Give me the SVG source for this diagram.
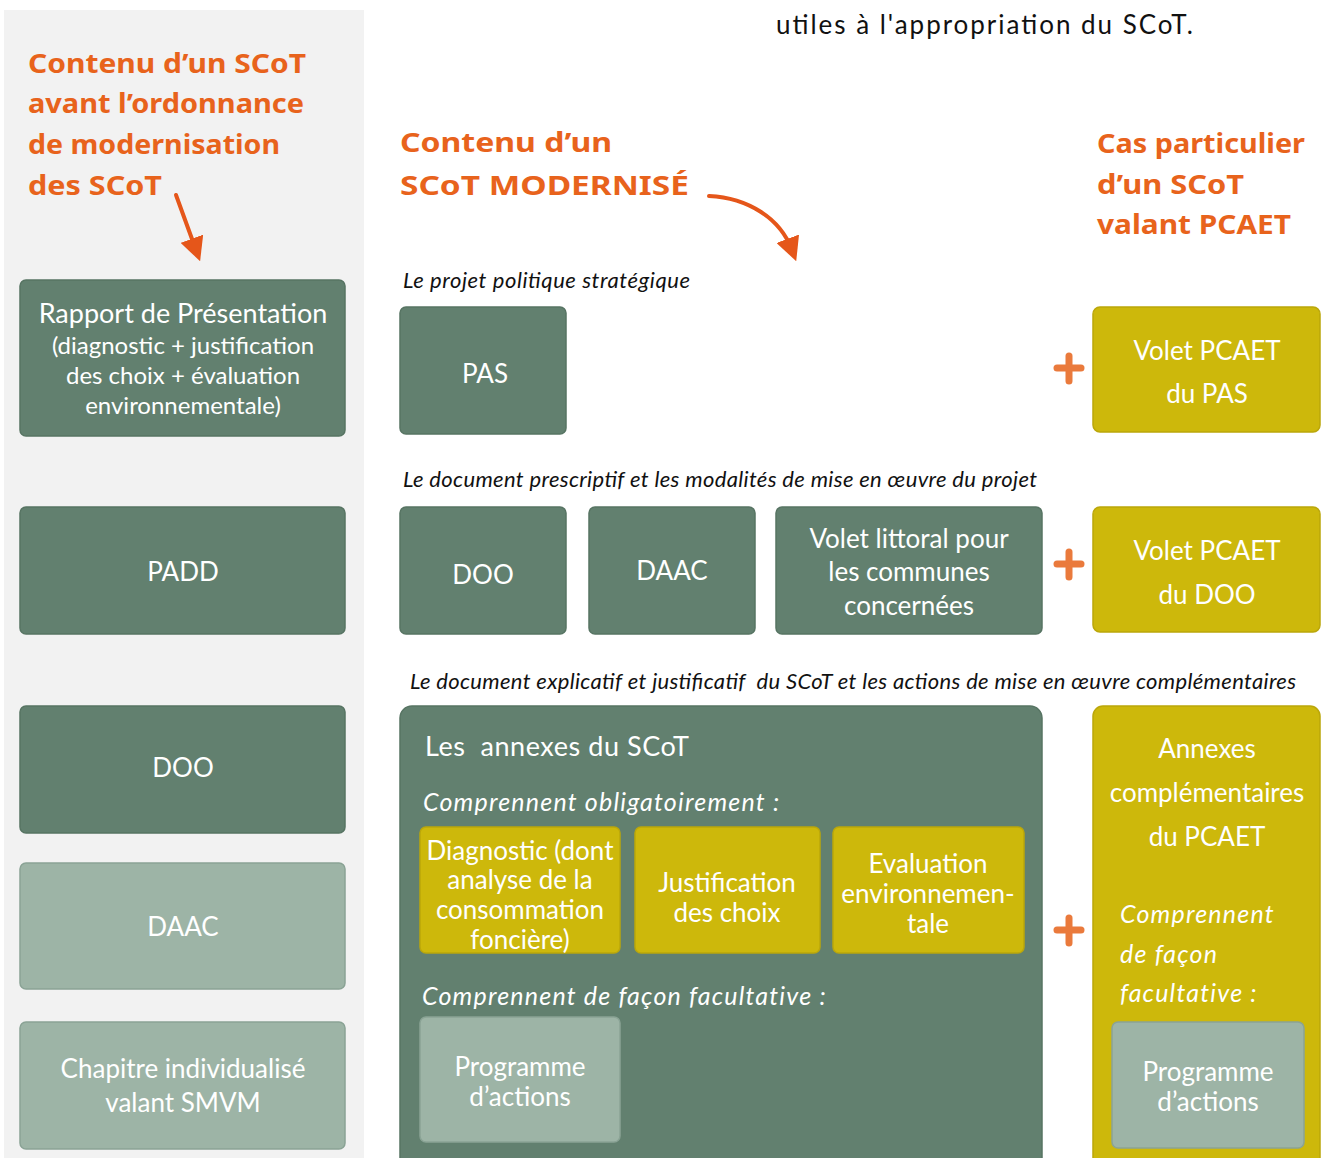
<svg xmlns="http://www.w3.org/2000/svg" width="1322" height="1158" viewBox="0 0 1322 1158">
<style>
.title{font-family:"Noto Sans",Lato,sans-serif;font-weight:700;font-size:27px;fill:#e8631c}
.dk{fill:#62806f;stroke:#577463;stroke-width:1.5}
.lt{fill:#9db4a6;stroke:#8aa395;stroke-width:1.5}
.ye{fill:#cdb80b;stroke:#bba70a;stroke-width:1.5}
.bt{font-family:Lato,"Open Sans",sans-serif;font-size:26px;fill:#ffffff;text-anchor:middle}
.cap{font-family:Lato,"Open Sans",sans-serif;font-style:italic;font-size:22px;fill:#111111}
.it{font-family:Lato,"Open Sans",sans-serif;font-style:italic;font-size:25px;fill:#ffffff;letter-spacing:1.2px}
.plus{stroke:#ea7a3c;stroke-width:7;stroke-linecap:round}
.arr{fill:none;stroke:#e5561a;stroke-width:4;stroke-linecap:round}
</style>
<defs>
<marker id="ah" markerWidth="6" markerHeight="6" refX="3" refY="3" orient="auto" markerUnits="strokeWidth">
<path d="M0,0 L6,3 L0,6 Z" fill="#e5561a"/>
</marker>
</defs>
<rect x="0" y="0" width="1322" height="1158" fill="#ffffff"/>
<rect x="4" y="10" width="360" height="1148" fill="#f2f2f2"/>

<text x="776" y="34" font-family="Lato,'Noto Sans',sans-serif" font-size="26" fill="#111111" textLength="417" lengthAdjust="spacing">utiles à l'appropriation du SCoT.</text>

<g id="titles">
<text class="title" x="28" y="73" textLength="278" lengthAdjust="spacingAndGlyphs">Contenu d’un SCoT</text>
<text class="title" x="28" y="113" textLength="276" lengthAdjust="spacingAndGlyphs">avant l’ordonnance</text>
<text class="title" x="28" y="154" textLength="252" lengthAdjust="spacingAndGlyphs">de modernisation</text>
<text class="title" x="28" y="195" textLength="134" lengthAdjust="spacingAndGlyphs">des SCoT</text>
<text class="title" font-size="29" x="400" y="152" textLength="212" lengthAdjust="spacingAndGlyphs">Contenu d’un</text>
<text class="title" font-size="29" x="400" y="195" textLength="289" lengthAdjust="spacingAndGlyphs">SCoT MODERNISÉ</text>
<text class="title" font-size="28" x="1097" y="153" textLength="208" lengthAdjust="spacingAndGlyphs">Cas particulier</text>
<text class="title" font-size="28" x="1097" y="194" textLength="147" lengthAdjust="spacingAndGlyphs">d’un SCoT</text>
<text class="title" font-size="28" x="1097" y="234" textLength="194" lengthAdjust="spacingAndGlyphs">valant PCAET</text>
</g>

<g id="connectors">
<path class="arr" d="M176,195 L196,250" marker-end="url(#ah)"/>
<path class="arr" d="M709,196 C748,198 780,218 792,250" marker-end="url(#ah)"/>
<g id="plus1"><line class="plus" x1="1057" y1="368" x2="1081" y2="368"/><line class="plus" x1="1069" y1="356" x2="1069" y2="381"/></g>
<g id="plus2"><line class="plus" x1="1057" y1="564" x2="1081" y2="564"/><line class="plus" x1="1069" y1="552" x2="1069" y2="577"/></g>
<g id="plus3"><line class="plus" x1="1057" y1="930" x2="1081" y2="930"/><line class="plus" x1="1069" y1="918" x2="1069" y2="943"/></g>
</g>

<g id="left-rapport"><rect class="dk" x="20" y="280" width="325" height="156" rx="6"/>
<text class="bt"><tspan x="183" y="323" font-size="27">Rapport de Présentation</tspan><tspan x="183" y="354" font-size="24">(diagnostic + justification</tspan><tspan x="183" y="384" font-size="24">des choix + évaluation</tspan><tspan x="183" y="414" font-size="24">environnementale)</tspan></text></g>
<g id="left-padd"><rect class="dk" x="20" y="507" width="325" height="127" rx="6"/><text class="bt" x="183" y="581">PADD</text></g>
<g id="left-doo"><rect class="dk" x="20" y="706" width="325" height="127" rx="6"/><text class="bt" x="183" y="777">DOO</text></g>
<g id="left-daac"><rect class="lt" x="20" y="863" width="325" height="126" rx="6"/><text class="bt" x="183" y="936">DAAC</text></g>
<g id="left-chapitre"><rect class="lt" x="20" y="1022" width="325" height="127" rx="6"/>
<text class="bt" font-size="27"><tspan x="183" y="1078">Chapitre individualisé</tspan><tspan x="183" y="1112">valant SMVM</tspan></text></g>

<text class="cap" x="403" y="288" textLength="287" lengthAdjust="spacing">Le projet politique stratégique</text>
<g id="pas"><rect class="dk" x="400" y="307" width="166" height="127" rx="6"/><text class="bt" x="485" y="383">PAS</text></g>
<g id="pcaet-pas"><rect class="ye" x="1093" y="307" width="227" height="125" rx="7"/>
<text class="bt" font-size="27"><tspan x="1207" y="360">Volet PCAET</tspan><tspan x="1207" y="403">du PAS</tspan></text></g>

<text class="cap" x="403" y="487" textLength="634" lengthAdjust="spacing">Le document prescriptif et les modalités de mise en œuvre du projet</text>
<g id="doo"><rect class="dk" x="400" y="507" width="166" height="127" rx="6"/><text class="bt" x="483" y="584">DOO</text></g>
<g id="daac"><rect class="dk" x="589" y="507" width="166" height="127" rx="6"/><text class="bt" x="672" y="580">DAAC</text></g>
<g id="littoral"><rect class="dk" x="776" y="507" width="266" height="127" rx="6"/>
<text class="bt" font-size="27"><tspan x="909" y="548">Volet littoral pour</tspan><tspan x="909" y="581">les communes</tspan><tspan x="909" y="615">concernées</tspan></text></g>
<g id="pcaet-doo"><rect class="ye" x="1093" y="507" width="227" height="125" rx="7"/>
<text class="bt" font-size="27"><tspan x="1207" y="560">Volet PCAET</tspan><tspan x="1207" y="604">du DOO</tspan></text></g>

<text class="cap" x="410" y="689" textLength="886" lengthAdjust="spacing" xml:space="preserve">Le document explicatif et justificatif  du SCoT et les actions de mise en œuvre complémentaires</text>
<g id="annexes"><rect class="dk" x="400" y="706" width="642" height="470" rx="12"/>
<text x="425" y="756" font-family="Lato,'Open Sans',sans-serif" font-size="27" fill="#ffffff" textLength="264" lengthAdjust="spacing" xml:space="preserve">Les  annexes du SCoT</text>
<text class="it" x="423" y="811">Comprennent obligatoirement :</text>
<text class="it" x="422" y="1005">Comprennent de façon facultative :</text>
</g>
<g id="diagnostic"><rect class="ye" x="420" y="827" width="200" height="126" rx="6"/>
<text class="bt" font-size="24"><tspan x="520" y="860">Diagnostic (dont</tspan><tspan x="520" y="889">analyse de la</tspan><tspan x="520" y="919">consommation</tspan><tspan x="520" y="949">foncière)</tspan></text></g>
<g id="justification"><rect class="ye" x="635" y="827" width="185" height="126" rx="6"/>
<text class="bt" font-size="24"><tspan x="727" y="892">Justification</tspan><tspan x="727" y="922">des choix</tspan></text></g>
<g id="evaluation"><rect class="ye" x="833" y="827" width="191" height="126" rx="6"/>
<text class="bt" font-size="24"><tspan x="928" y="873">Evaluation</tspan><tspan x="928" y="903">environnemen-</tspan><tspan x="928" y="933">tale</tspan></text></g>
<g id="programme1"><rect class="lt" x="420" y="1017" width="200" height="125" rx="6"/>
<text class="bt" font-size="24"><tspan x="520" y="1076">Programme</tspan><tspan x="520" y="1106">d’actions</tspan></text></g>

<g id="annexes-pcaet"><rect class="ye" x="1093" y="706" width="227" height="470" rx="10"/>
<text class="bt" font-size="28.5"><tspan x="1207" y="758">Annexes</tspan><tspan x="1207" y="802">complémentaires</tspan><tspan x="1207" y="846">du PCAET</tspan></text>
<text class="it"><tspan x="1120" y="923">Comprennent</tspan><tspan x="1120" y="963">de façon</tspan><tspan x="1120" y="1002">facultative :</tspan></text></g>
<g id="programme2"><rect class="lt" x="1112" y="1022" width="192" height="126" rx="6"/>
<text class="bt" font-size="24"><tspan x="1208" y="1081">Programme</tspan><tspan x="1208" y="1111">d’actions</tspan></text></g>
</svg>
